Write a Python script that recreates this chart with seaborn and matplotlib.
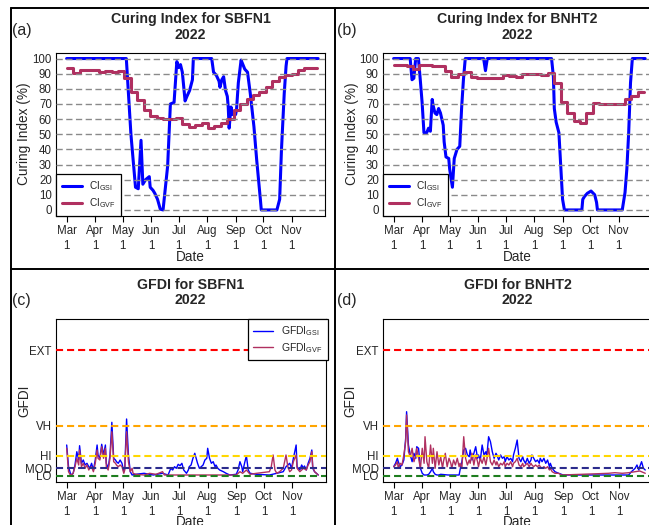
import numpy as np
import pandas as pd
import matplotlib
matplotlib.use("Agg")
import matplotlib.pyplot as plt
import seaborn as sns
from matplotlib.lines import Line2D

sns.set_style("ticks")
plt.rcParams["font.family"] = ["Liberation Sans", "DejaVu Sans"]
plt.rcParams["mathtext.fontset"] = "custom"
plt.rcParams["mathtext.rm"] = "Liberation Sans"
plt.rcParams["mathtext.it"] = "Liberation Sans:italic"
plt.rcParams["mathtext.bf"] = "Liberation Sans:bold"

# ---------------- data ----------------
START = "2022-03-01"
month_ticks = ["2022-03-01", "2022-04-01", "2022-05-01", "2022-06-01", "2022-07-01",
               "2022-08-01", "2022-09-01", "2022-10-01", "2022-11-01"]
month_labels = ["Mar\n1", "Apr\n1", "May\n1", "Jun\n1", "Jul\n1", "Aug\n1", "Sep\n1", "Oct\n1", "Nov\n1"]
ci_ticks = [0, 10, 20, 30, 40, 50, 60, 70, 80, 90, 100]
danger_levels = [0, 7.5, 20, 50, 125.5]
danger_labels = ["LO", "MOD", "HI", "VH", "EXT"]
danger_colors = ["#1E7D1E", "#2B2B8C", "#FFD700", "#FFA500", "#FF0000"]

# (a) SBFN1 curing index
a_gsi_days = [0, 65, 70, 75, 78, 81, 83, 86, 90, 91, 94, 96, 99, 102, 105, 110, 113, 117, 120, 122,
              124, 126, 129, 131, 134, 137, 138, 158, 160, 163, 166, 167, 169, 171, 173, 175, 176, 177,
              179, 181, 184, 185, 187, 190, 192, 194, 197, 200, 204, 207, 211, 212, 229, 232, 234, 237,
              239, 240, 274]
a_gsi_vals = [100, 100, 50, 15, 14, 46, 17, 20, 22, 15, 13, 11, 7, 0.5, 0, 29, 70, 71, 98, 94,
              96, 91, 72, 75, 79, 86, 100, 100, 91, 89, 85, 81, 86, 88, 79, 75, 68, 54,
              68, 63, 63, 66, 84, 99, 96, 93, 91, 77, 55, 33, 7, 0, 0, 7, 40, 77,
              95, 100, 100]
gvf_days = [0, 7, 14, 21, 28, 35, 42, 49, 56, 63, 70, 77, 84, 91, 98, 105, 112, 119, 126, 133,
            140, 147, 154, 161, 168, 175, 182, 189, 196, 203, 210, 217, 224, 231, 238, 245, 252,
            259, 266, 273]
a_gvf_vals = [93.8, 90.5, 92.7, 92.5, 92.5, 91, 92, 91, 92, 87, 78, 72.5, 66, 62, 60.5, 60, 60, 61,
              57, 55, 56, 57.5, 54, 55.5, 57.5, 60, 66, 70, 73.5, 76, 78, 81, 85, 87.5, 89, 90, 92.5,
              93.5, 93.5, 93.5]

# (b) BNHT2 curing index
b_gsi_days = [0, 18, 20, 22, 24, 27, 29, 31, 33, 36, 38, 40, 42, 43, 45, 47, 49, 51, 54, 55,
              57, 60, 61, 64, 66, 69, 72, 74, 76, 78, 98, 100, 102, 172, 174, 175, 177, 180, 182, 184,
              186, 205, 206, 208, 211, 215, 219, 221, 222, 249, 252, 254, 256, 258, 260, 274]
b_gsi_vals = [100, 100, 86, 87, 100, 100, 86, 71, 51, 51, 54, 52, 73, 69, 64, 63, 67, 64, 56, 45,
              35, 34, 27, 15, 34, 40, 42, 67, 86, 100, 100, 92, 100, 100, 88, 67, 58, 51, 29, 7,
              0, 0, 7, 9, 11, 12.5, 10, 5, 0, 0, 11.5, 27, 51, 84, 100, 100]
b_gvf_vals = [95.6, 95.6, 95, 93.2, 95.6, 95.6, 95, 95, 92, 88, 89.6, 91, 88, 87.4, 87.4, 87.4, 87.4,
              89, 88.5, 88, 89.6, 89.6, 89.6, 89, 90.3, 84, 71, 64, 59, 57.3, 64.3, 70.5, 70.3, 70,
              70, 70.3, 73, 75, 78, 78]

# (c) SBFN1 GFDI
c_gsi_days = [0, 2, 4, 5, 7, 9, 11, 13, 14, 16, 18, 20, 22, 24, 25, 27, 29, 31, 33, 34, 36, 38, 40,
              42, 43, 45, 47, 49, 51, 53, 54, 56, 58, 60, 62, 63, 65, 67, 69, 71,
              75, 84, 94, 104, 110, 113, 115, 117, 119, 121, 123, 125, 127, 130, 132, 133, 135, 137,
              139, 141, 142, 144, 146, 148, 150, 152, 153, 155, 157, 159, 161, 162, 164, 166, 170,
              173, 177, 184, 186, 188, 190, 191, 193, 195, 197, 199, 206, 220, 228, 235, 238, 242,
              244, 246, 249, 250, 253, 255, 257, 258, 260, 262, 264, 266, 267, 269, 271, 273]
c_gsi_vals = [30.7, 9, 2.4, 0.7, 2.4, 10.7, 24, 15.7, 30, 12.4, 15.7, 10.7, 12.4, 9, 7.4, 12.4, 5.7,
              15.7, 30.7, 20.7, 17.4, 31.4, 20.7, 30.7, 12.4, 7.4, 20.7, 53.4, 17.4, 15.7, 14, 12.4,
              15.7, 12.4, 4, 7.4, 56.7, 20.7, 4, 0.7,
              1.4, 2.4, 0.7, 2.4, 0.7, 7.4, 5.7, 9, 7.4, 11.4, 10, 12.4, 5.7, 2.4, 5.7, 9, 10.7, 17.4,
              22.4, 15.7, 12.4, 7.4, 9, 10.7, 15.7, 17.4, 27.4, 17.4, 12.4, 14, 9, 10.7, 7.4, 5.7, 4,
              2.4, 0.7, 1.4, 5.7, 14, 9, 4, 12.4, 20, 5.7, 2.4, 1.4, 0.7, 2.4, 4, 9, 12.4,
              7.4, 17.4, 30.7, 9, 5.7, 10.7, 7.4, 9.7, 5.7, 12.4, 17.4, 25.7, 7.4, 4, 2.4, 0.7]
c_gvf_days = [0, 2, 4, 5, 7, 9, 11, 13, 14, 16, 18, 20, 22, 24, 25, 27, 29, 31, 33, 34, 36, 38, 40,
              42, 43, 45, 47, 49, 51, 53, 54, 56, 58, 60, 62, 63, 65, 67, 69, 71, 72,
              75, 84, 90, 97, 104, 106, 133, 184, 188, 191, 195, 199, 206, 220, 222, 224, 226, 228,
              231, 235, 238, 240, 242, 244, 246, 249, 250, 253, 257, 260, 262, 264, 266, 267, 269, 273]
c_gvf_vals = [27.4, 4, 0.7, 0.7, 2.4, 9, 17.4, 10.7, 25.7, 9, 12.4, 7.4, 10.7, 5.7, 7.4, 9, 4, 12.4,
              25.7, 17.4, 15.7, 29, 17.4, 27.4, 9, 5.7, 17.4, 44, 14, 12.4, 10.7, 9, 10.7, 9, 2.4,
              5.7, 44, 14, 4, 7.4, 2.4,
              1.4, 0.7, 2.4, 1.4, 4, 0.7, 0.7, 0.7, 4, 2.4, 5.7, 1.4, 2.4, 4, 9, 20.7, 5.7, 2.4,
              4, 7.4, 20.7, 9, 4, 5.7, 14, 20.7, 7.4, 4, 7.4, 5.7, 10.7, 14, 24, 9, 4, 0.7]

# (d) BNHT2 GFDI
d_gsi_days = [0, 2, 4, 5, 7, 9, 11, 13, 14, 16, 18, 20, 22, 24, 25, 27, 29, 31, 33, 34, 36, 38, 40,
              42, 43, 45, 47, 49, 51, 59, 71,
              72, 74, 76, 78, 80, 82, 83, 85, 87, 89, 91, 92, 94, 96, 98, 100, 101, 103, 105, 107, 109,
              111, 112, 114, 116, 118, 120, 121, 123, 125, 127, 129, 130, 132, 134, 136, 138, 140, 141,
              143, 145, 147, 149, 150, 152, 154, 156, 158, 159, 161, 163, 165, 167, 169, 170, 172,
              175, 179, 184, 255, 258, 262, 264, 266, 267, 269, 271, 273]
d_gsi_vals = [9, 12.4, 17.4, 14, 9, 10.7, 15.7, 37.4, 64, 30.7, 20.7, 14, 22.4, 17.4, 29, 27.4, 7.4,
              2.4, 0.7, 0.7, 0.7, 1.4, 4, 7.4, 4, 1.4, 0.7, 0.7, 1.4, 0.7, 0.7,
              5.7, 14, 25.7, 27.4, 20.7, 19, 25.7, 15.7, 22.4, 29, 17.4, 20.7, 15.7, 30.7, 20.7, 24,
              19, 39, 34, 24, 17.4, 22.4, 20.7, 15.7, 20.7, 17.4, 19, 14, 19, 15.7, 17.4, 14, 20.7,
              27.4, 35.7, 17.4, 14, 19, 15.7, 12.4, 17.4, 12.4, 15.7, 20.7, 17.4, 14, 15.7, 12.4,
              17.4, 14, 17.4, 12.4, 15.7, 9, 12.4, 7.4,
              4, 2.4, 0.7, 0.7, 4, 7.4, 10.7, 5.7, 9, 14, 7.4, 5.7]
d_gvf_days = [0, 2, 4, 5, 7, 9, 11, 13, 14, 16, 18, 20, 22, 24, 25, 27, 29, 31, 33, 34, 36, 38, 40,
              42, 43, 45, 47, 49, 51, 53, 54, 56, 58, 60, 62, 63, 65, 67, 69, 71, 72, 74, 76, 78, 80,
              82, 83, 85, 87, 89, 91, 92, 94, 96, 98, 100, 101, 103, 105, 107, 109, 111, 112, 114,
              116, 118, 120, 121, 123, 125, 127, 129, 130, 132, 134, 136, 138, 140, 141, 143, 145,
              147, 149, 150, 152, 154, 156, 158, 159, 161, 163, 165, 167, 169, 170, 172,
              175, 179, 182, 204, 222, 233, 240, 248, 255, 262, 267, 273]
d_gvf_vals = [9, 10.7, 14, 7.4, 12.4, 10.7, 20.7, 34, 60.7, 24, 19, 27.4, 14, 20.7, 27.4, 17.4, 7.4,
              27.4, 12.4, 39, 14, 7.4, 30.7, 12.4, 27.4, 7.4, 24, 10.7, 19, 7.4, 14, 22.4, 9, 17.4,
              12.4, 7.4, 15.7, 10.7, 17.4, 9, 12.4, 7.4, 39, 17.4, 10.7, 15.7, 12.4, 22.4, 10.7, 20.7,
              14, 9, 17.4, 12.4, 19, 10.7, 15.7, 27.4, 14, 10.7, 15.7, 10.7, 14, 9, 12.4, 10.7, 14, 9,
              12.4, 10.7, 14, 9, 12.4, 14, 17.4, 10.7, 9, 12.4, 9, 10.7, 12.4, 9, 12.4, 10.7, 9, 10.7,
              9, 10.7, 9, 7.4, 9, 7.4, 9, 5.7, 7.4, 4,
              2.4, 2.4, 0.7, 1.4, 2, 2.4, 3, 2.4, 3, 4, 4.7, 2.4]

BLUE = "#0000FF"
MAROON = "#B03060"

# ---------------- figure ----------------
W, H = 649, 525
fig = plt.figure(figsize=(W / 100, H / 100), dpi=100)


def rect(l, r, t, b):
    return [l / W, 1 - b / H, (r - l) / W, (b - t) / H]


def to_dates(days):
    return pd.Timestamp(START) + pd.to_timedelta(np.asarray(days, dtype=float), unit="D")


def ftext(x, y, s, **kw):
    fig.text(x / W, 1 - y / H, s, **kw)


XL = (pd.Timestamp(START) - pd.Timedelta(days=11.6), pd.Timestamp(START) + pd.Timedelta(days=281.4))


def style_x(ax):
    ax.set_xlim(XL)
    ax.set_xticks(pd.to_datetime(month_ticks))
    ax.set_xticklabels(month_labels, fontsize=8.3)
    for lab in ax.get_xticklabels():
        lab.set_linespacing(1.3)
    ax.tick_params(axis="x", direction="out", length=4.3, width=0.8, pad=2.2, color="black")
    ax.tick_params(axis="y", length=0, pad=3, labelsize=8.3)
    for s in ax.spines.values():
        s.set_visible(True)
        s.set_color("black")
        s.set_linewidth(0.8)
    ax.set_xlabel("")
    ax.set_ylabel("")


def ci_panel(ax, gsi_d, gsi_v, gvf_d, gvf_v, legend):
    sns.lineplot(x=to_dates(gsi_d), y=gsi_v, ax=ax, color=BLUE, linewidth=2.2, errorbar=None,
                 legend=False, zorder=2)
    sns.lineplot(x=to_dates(gvf_d), y=gvf_v, ax=ax, color=MAROON, linewidth=2.2, errorbar=None,
                 legend=False, drawstyle="steps-post", zorder=2)
    for v in ci_ticks:
        ax.axhline(v, color="#8a8a8a", linewidth=1.0, linestyle=(0, (4.5, 2.5)), zorder=3)
    ax.set_ylim(-4, 104)
    ax.set_yticks(ci_ticks)
    ax.set_yticklabels([str(v) for v in ci_ticks])
    style_x(ax)
    if legend:
        h = [Line2D([], [], color=BLUE, lw=2.2), Line2D([], [], color=MAROON, lw=2.2)]
        leg = ax.legend(h, [r"CI$_{\rm GSI}$", r"CI$_{\rm GVF}$"], loc="lower left", borderaxespad=0,
                        fancybox=False, framealpha=1, edgecolor="black", fontsize=7.3, handlelength=2.0,
                        handletextpad=0.7, borderpad=0.55, labelspacing=0.35)
        leg.get_frame().set_linewidth(0.9)
        leg.set_zorder(6)


def gfdi_panel(ax, gsi_d, gsi_v, gvf_d, gvf_v, legend):
    sns.lineplot(x=to_dates(gsi_d), y=gsi_v, ax=ax, color=BLUE, linewidth=1.0, errorbar=None,
                 legend=False, zorder=2)
    sns.lineplot(x=to_dates(gvf_d), y=gvf_v, ax=ax, color=MAROON, linewidth=1.0, errorbar=None,
                 legend=False, zorder=2)
    for v, c in zip(danger_levels, danger_colors):
        ax.axhline(v, color=c, linewidth=1.5, linestyle=(0, (3.4, 1.9)), zorder=3)
    ax.set_ylim(-6.3, 156.7)
    ax.set_yticks(danger_levels)
    ax.set_yticklabels(danger_labels)
    style_x(ax)
    if legend:
        h = [Line2D([], [], color=BLUE, lw=1.0), Line2D([], [], color=MAROON, lw=1.0)]
        leg = ax.legend(h, [r"GFDI$_{\rm GSI}$", r"GFDI$_{\rm GVF}$"], loc="upper right",
                        bbox_to_anchor=(1.006, 1.0), borderaxespad=0, fancybox=False, framealpha=1,
                        edgecolor="black", fontsize=7.5, handlelength=1.9, handletextpad=0.8,
                        borderpad=0.5, labelspacing=0.3)
        leg.get_frame().set_linewidth(0.9)
        leg.set_zorder(6)


ax_a = fig.add_axes(rect(56, 325, 52.5, 216))
ci_panel(ax_a, a_gsi_days, a_gsi_vals, gvf_days, a_gvf_vals, True)
ax_b = fig.add_axes(rect(383, 652, 52.5, 216))
ci_panel(ax_b, b_gsi_days, b_gsi_vals, gvf_days, b_gvf_vals, True)
ax_c = fig.add_axes(rect(56, 326, 319, 482))
gfdi_panel(ax_c, c_gsi_days, c_gsi_vals, c_gvf_days, c_gvf_vals, True)
ax_d = fig.add_axes(rect(383, 653, 319, 482))
gfdi_panel(ax_d, d_gsi_days, d_gsi_vals, d_gvf_days, d_gvf_vals, False)

# titles and labels
tkw = dict(ha="center", va="center", fontsize=10.2, fontweight="bold")
for cx, y1, y2, t in [(190.5, 18.5, 35, "Curing Index for SBFN1"), (517.5, 18.5, 35, "Curing Index for BNHT2"),
                      (190.5, 285, 300.5, "GFDI for SBFN1"), (517.5, 285, 300.5, "GFDI for BNHT2")]:
    ftext(cx, y1, t, **tkw)
    ftext(cx, y2, "2022", **tkw)

for x, y, s in [(12, 30, "(a)"), (337, 30, "(b)"), (12, 300.5, "(c)"), (337, 300.5, "(d)")]:
    ftext(x, y, s, ha="left", va="center", fontsize=11.5)

lkw = dict(ha="center", va="center", fontsize=9.8)
ftext(24, 134, "Curing Index (%)", rotation=90, **lkw)
ftext(352, 134, "Curing Index (%)", rotation=90, **lkw)
ftext(24, 400.5, "GFDI", rotation=90, **lkw)
ftext(350.5, 400.5, "GFDI", rotation=90, **lkw)
ftext(190.5, 257, "Date", **lkw)
ftext(517.5, 257, "Date", **lkw)
ftext(190.5, 522, "Date", **lkw)
ftext(517.5, 522, "Date", **lkw)

# panel borders
bkw = dict(transform=fig.transFigure, color="black", linewidth=1.4)
fig.add_artist(Line2D([11 / W, 11 / W], [1 - 8 / H, 0], **bkw))
fig.add_artist(Line2D([335 / W, 335 / W], [1 - 8 / H, 0], **bkw))
fig.add_artist(Line2D([11 / W, 1], [1 - 8 / H, 1 - 8 / H], **bkw))
fig.add_artist(Line2D([11 / W, 1], [1 - 269 / H, 1 - 269 / H], **bkw))

fig.savefig("out.png", dpi=100)
